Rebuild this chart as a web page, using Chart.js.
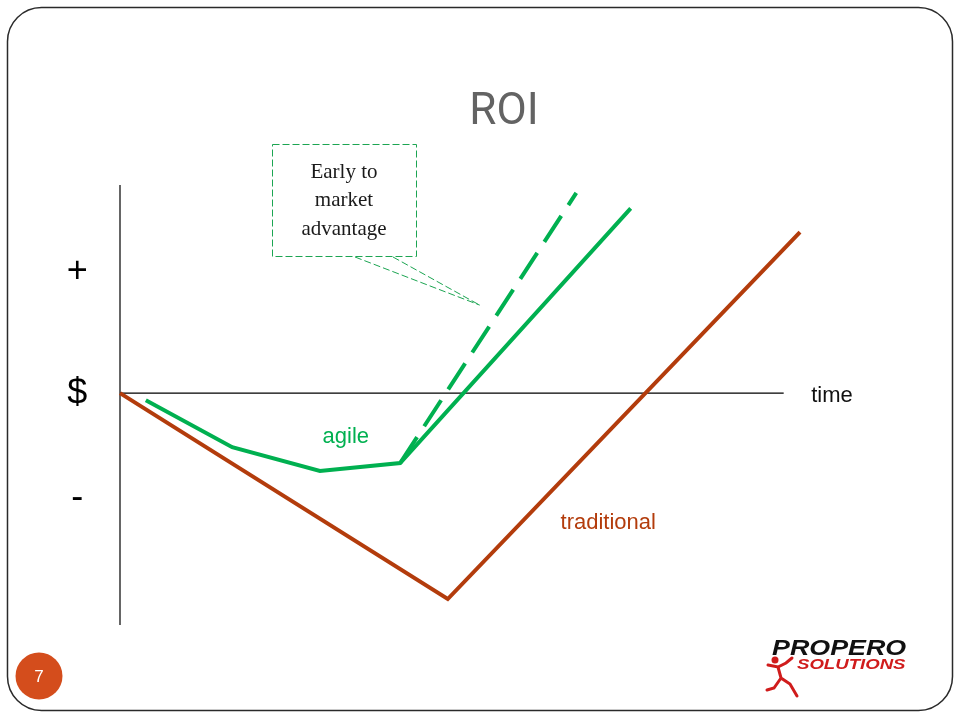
<!DOCTYPE html>
<html>
<head>
<meta charset="utf-8">
<title>ROI</title>
<script src="https://cdn.jsdelivr.net/npm/chart.js@4/dist/chart.umd.min.js"></script>
<style>
  html, body { margin: 0; padding: 0; background: #ffffff; }
  #roi { display: block; }
</style>
</head>
<body>
<canvas id="roi" width="960" height="720"></canvas>
<script>
// time runs 0..10, money in arbitrary units ($0 on the time axis)
const traditionalX = [0, 4.82, 10];
const traditionalY = [0, -4.68, 3.66];

const agileX = [0.38, 1.65, 2.94, 4.12, 7.51];
const agileY = [-0.16, -1.23, -1.77, -1.59, 4.20];

const earlyX = [4.12, 6.71];
const earlyY = [-1.59, 4.55];

const signLabels = ['+', '$', '-'];
const signY = [2.74, -0.03, -2.38];

const seriesNames = ['agile', 'traditional', 'time'];
const seriesNameX = [3.32, 7.18, 10.47];
const seriesNameY = [-1.0, -2.95, -0.07];

const calloutLines = ['Early to', 'market', 'advantage'];
const calloutTip = { x: 5.29, y: 2.0 };

const AXIS_X_END = 9.76;

const GREEN = '#00b050';
const BROWN = '#b33c0c';

const toPoints = (xs, ys) => xs.map((x, i) => ({ x: x, y: ys[i] }));

const slidePlugin = {
    id: 'slide',
    beforeDraw: function(chart) {
        const ctx = chart.ctx;
        ctx.save();
        ctx.fillStyle = '#ffffff';
        ctx.fillRect(0, 0, chart.width, chart.height);

        // slide frame
        ctx.strokeStyle = '#2a2a2a';
        ctx.lineWidth = 1.5;
        ctx.beginPath();
        ctx.roundRect(7.5, 7.5, 945, 703, 34);
        ctx.stroke();

        // axes
        const xs = chart.scales.x, ys = chart.scales.y;
        const x0 = xs.getPixelForValue(0), y0 = ys.getPixelForValue(0);
        ctx.strokeStyle = '#000000';
        ctx.lineWidth = 1.2;
        ctx.beginPath();
        ctx.moveTo(x0, chart.chartArea.top);
        ctx.lineTo(x0, chart.chartArea.bottom);
        ctx.moveTo(x0, y0);
        ctx.lineTo(xs.getPixelForValue(AXIS_X_END), y0);
        ctx.stroke();
        ctx.restore();
    },
    afterDatasetsDraw: function(chart) {
        const ctx = chart.ctx;
        const xs = chart.scales.x, ys = chart.scales.y;
        ctx.save();

        // title
        ctx.fillStyle = '#636363';
        ctx.font = '44px Roboto';
        ctx.textAlign = 'center';
        ctx.textBaseline = 'middle';
        ctx.fillText('ROI', 504, 113);

        // +, $, - on the money axis
        ctx.fillStyle = '#000000';
        ctx.font = '36px "Liberation Sans"';
        signLabels.forEach((s, i) => {
            ctx.fillText(s, xs.getPixelForValue(-0.63), ys.getPixelForValue(signY[i]));
        });

        // series names
        ctx.font = '22px "Liberation Sans"';
        const nameColors = [GREEN, BROWN, '#111111'];
        seriesNames.forEach((s, i) => {
            ctx.fillStyle = nameColors[i];
            ctx.fillText(s, xs.getPixelForValue(seriesNameX[i]), ys.getPixelForValue(seriesNameY[i]));
        });

        // callout box
        const tipX = xs.getPixelForValue(calloutTip.x), tipY = ys.getPixelForValue(calloutTip.y);
        ctx.strokeStyle = '#1ca552';
        ctx.lineWidth = 1;
        ctx.setLineDash([7, 3]);
        ctx.strokeRect(272.5, 144.5, 144, 112);
        ctx.beginPath();
        ctx.moveTo(355, 257);
        ctx.lineTo(tipX, tipY);
        ctx.moveTo(393, 257);
        ctx.lineTo(tipX, tipY);
        ctx.stroke();
        ctx.setLineDash([]);
        ctx.fillStyle = '#1a1a1a';
        ctx.font = '21px "Liberation Serif"';
        calloutLines.forEach((s, i) => {
            ctx.fillText(s, 344, 172 + i * 28.5);
        });

        // page number
        ctx.fillStyle = '#d44d1c';
        ctx.beginPath();
        ctx.arc(39, 676, 23.5, 0, Math.PI * 2);
        ctx.fill();
        ctx.fillStyle = '#ffffff';
        ctx.font = '17px "Liberation Sans"';
        ctx.fillText('7', 39, 677);

        // logo
        ctx.save();
        ctx.translate(772, 649);
        ctx.scale(1.22, 1);
        ctx.fillStyle = '#111111';
        ctx.font = 'italic 900 22px "Liberation Sans"';
        ctx.textAlign = 'left';
        ctx.fillText('PROPERO', 0, 0);
        ctx.restore();
        ctx.save();
        ctx.translate(797, 665);
        ctx.scale(1.24, 1);
        ctx.fillStyle = '#d01c1c';
        ctx.font = 'italic bold 15px "Liberation Sans"';
        ctx.textAlign = 'left';
        ctx.fillText('SOLUTIONS', 0, 0);
        ctx.restore();

        // runner
        ctx.strokeStyle = '#d01c1c';
        ctx.fillStyle = '#d01c1c';
        ctx.lineWidth = 3;
        ctx.lineCap = 'round';
        ctx.beginPath();
        ctx.arc(775, 660, 3.5, 0, Math.PI * 2);
        ctx.fill();
        ctx.beginPath();
        ctx.moveTo(768, 665); ctx.lineTo(778, 667); ctx.lineTo(786, 663); ctx.lineTo(792, 658);
        ctx.moveTo(778, 667); ctx.lineTo(781, 678); ctx.lineTo(790, 684); ctx.lineTo(797, 696);
        ctx.moveTo(781, 678); ctx.lineTo(774, 688); ctx.lineTo(767, 690);
        ctx.stroke();

        ctx.restore();
    }
};

new Chart(document.getElementById('roi').getContext('2d'), {
    type: 'scatter',
    data: {
        datasets: [
            {
                label: 'traditional',
                data: toPoints(traditionalX, traditionalY),
                showLine: true,
                borderColor: BROWN,
                borderWidth: 4,
                pointRadius: 0,
                clip: false
            },
            {
                label: 'agile',
                data: toPoints(agileX, agileY),
                showLine: true,
                borderColor: GREEN,
                borderWidth: 4,
                pointRadius: 0,
                clip: false
            },
            {
                label: 'agile (early to market)',
                data: toPoints(earlyX, earlyY),
                showLine: true,
                borderColor: GREEN,
                borderWidth: 4,
                borderDash: [31, 13],
                pointRadius: 0,
                clip: false
            }
        ]
    },
    options: {
        responsive: false,
        animation: false,
        events: [],
        layout: { padding: { left: 120, right: 160, top: 185, bottom: 95 } },
        plugins: {
            legend: { display: false },
            tooltip: { enabled: false },
            title: { display: false }
        },
        scales: {
            x: { type: 'linear', min: 0, max: 10, display: false },
            y: { type: 'linear', min: -5.27, max: 4.73, display: false }
        }
    },
    plugins: [slidePlugin]
});
</script>
</body>
</html>
